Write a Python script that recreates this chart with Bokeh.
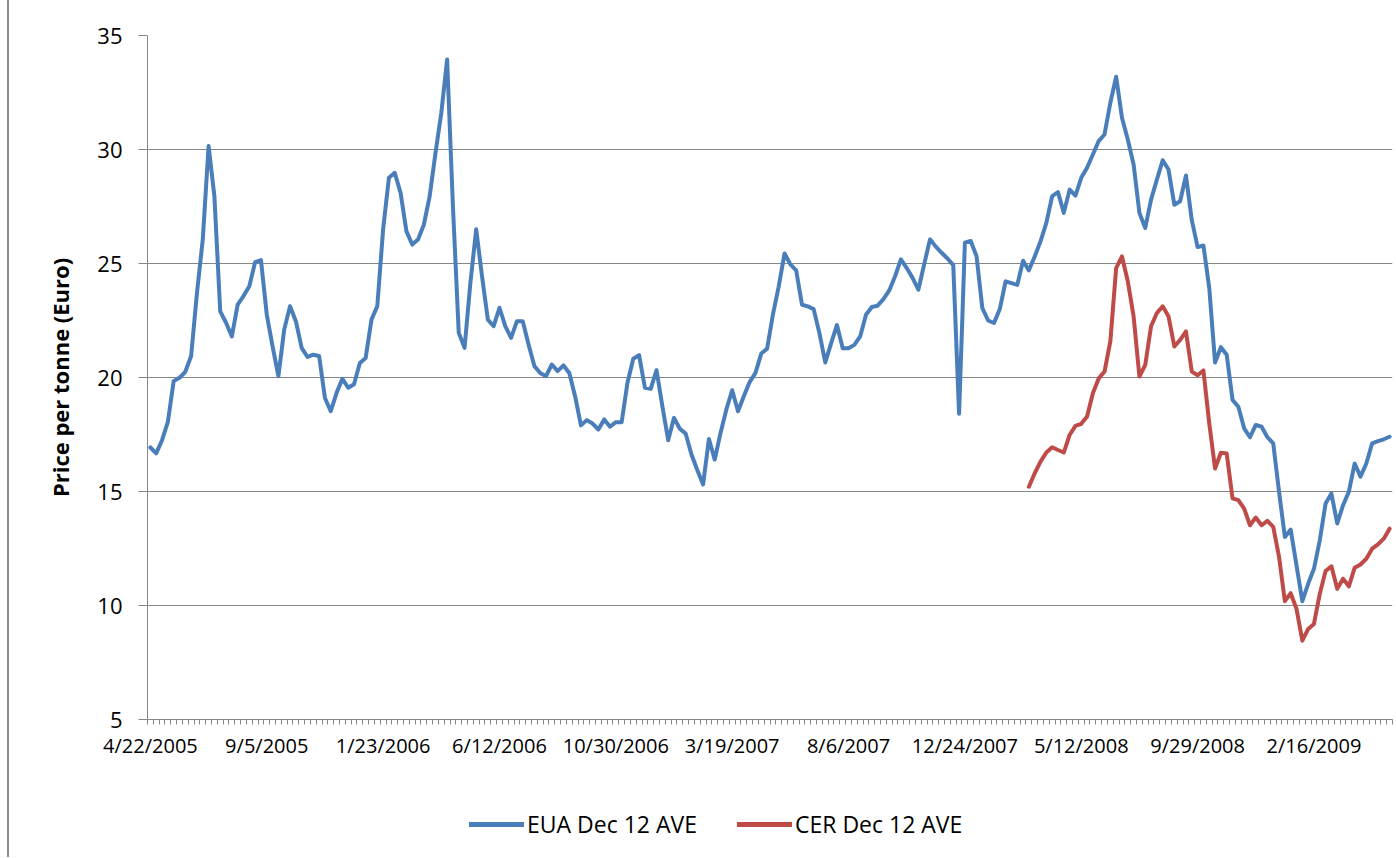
from bokeh.plotting import figure
from bokeh.layouts import column
from bokeh.models import FixedTicker, Legend, LegendItem, Range1d
from bokeh.embed import file_html
from bokeh.resources import INLINE

# Weekly settlement averages (Euro per tonne)
eua = [16.93, 16.67, 17.25, 18.05, 19.84, 19.99, 20.25, 20.94, 23.7, 26.05,
       30.15, 27.95, 22.9, 22.4, 21.8, 23.2, 23.57, 24.0, 25.06, 25.15,
       22.76, 21.37, 20.06, 22.1, 23.13, 22.47, 21.3, 20.9, 21.0, 20.94,
       19.1, 18.52, 19.33, 19.94, 19.55, 19.7, 20.64, 20.86, 22.54, 23.13,
       26.5, 28.76, 28.98, 28.1, 26.42, 25.83, 26.05, 26.7, 27.95, 29.85,
       31.6, 33.95, 27.5, 21.96, 21.3, 24.15, 26.5, 24.44, 22.54, 22.25,
       23.06, 22.25, 21.74, 22.47, 22.47, 21.45, 20.5, 20.2, 20.06, 20.57,
       20.28, 20.53, 20.2, 19.18, 17.9, 18.13, 17.98, 17.72, 18.16, 17.84,
       18.04, 18.04, 19.77, 20.82, 20.98, 19.55, 19.5, 20.32, 18.74, 17.25,
       18.23, 17.75, 17.54, 16.62, 15.94, 15.31, 17.3, 16.4, 17.57, 18.6,
       19.44, 18.52, 19.18, 19.8, 20.2, 21.05, 21.26, 22.76, 24.0, 25.44,
       24.96, 24.7, 23.19, 23.12, 23.0, 21.94, 20.66, 21.5, 22.3, 21.28,
       21.28, 21.43, 21.8, 22.75, 23.09, 23.15, 23.44, 23.82, 24.44, 25.18,
       24.8, 24.37, 23.85, 24.96, 26.06, 25.74, 25.47, 25.22, 24.93, 18.41,
       25.91, 25.99, 25.32, 23.04, 22.5, 22.39, 23.0, 24.22, 24.14, 24.06,
       25.12, 24.7, 25.31, 25.97, 26.78, 27.95, 28.13, 27.22, 28.24, 27.98,
       28.76, 29.2, 29.78, 30.37, 30.66, 32.05, 33.19, 31.39, 30.44, 29.34,
       27.22, 26.56, 27.8, 28.68, 29.53, 29.12, 27.58, 27.73, 28.86, 26.9,
       25.72, 25.79, 23.93, 20.66, 21.33, 21.0, 19.02, 18.72, 17.77, 17.38,
       17.92, 17.84, 17.38, 17.11, 14.99, 13.0, 13.33, 11.76, 10.19, 10.95,
       11.61, 12.86, 14.47, 14.91, 13.6, 14.4, 14.99, 16.23, 15.65, 16.23,
       17.11, 17.21, 17.29, 17.4]

cer_start = 151
cer = [15.21, 15.8, 16.31, 16.71, 16.94, 16.82, 16.71, 17.48, 17.88, 17.97,
       18.29, 19.31, 19.96, 20.26, 21.58, 24.8, 25.31, 24.22, 22.68, 20.04,
       20.55, 22.25, 22.83, 23.12, 22.68, 21.36, 21.65, 22.02, 20.26, 20.1,
       20.31, 17.99, 16.01, 16.7, 16.67, 14.7, 14.62, 14.25, 13.52, 13.86,
       13.52, 13.71, 13.45, 12.13, 10.19, 10.54, 9.85, 8.46, 8.97, 9.19,
       10.51, 11.51, 11.72, 10.73, 11.17, 10.84, 11.66, 11.8, 12.05, 12.49,
       12.68, 12.93, 13.37]

tick_labels = ["4/22/2005", "9/5/2005", "1/23/2006", "6/12/2006", "10/30/2006",
               "3/19/2007", "8/6/2007", "12/24/2007", "5/12/2008", "9/29/2008",
               "2/16/2009"]
label_step = 20
y_ticks = [5, 10, 15, 20, 25, 30, 35]
series_names = ["EUA Dec 12 AVE", "CER Dec 12 AVE"]
series_colors = ["#4A7EBB", "#BE4B48"]

n = len(eua)
x_eua = list(range(n))
x_cer = list(range(cer_start, cer_start + len(cer)))
series_x = [x_eua, x_cer]
series_y = [eua, cer]

FONT = "Open Sans"
GRID = "#868686"
W = 1386
LEFT = 138

p = figure(width=W, height=779, output_backend="svg", toolbar_location=None,
           x_range=Range1d(-0.5, n - 0.5), y_range=Range1d(5, 35),
           min_border_left=LEFT, min_border_right=3, min_border_top=35,
           min_border_bottom=60)
p.outline_line_color = None
p.background_fill_color = "white"
p.border_fill_color = "white"

p.xgrid.visible = False
p.ygrid.grid_line_color = GRID
p.ygrid.grid_line_width = 1

yax = p.yaxis[0]
yax.ticker = FixedTicker(ticks=y_ticks)
yax.axis_line_color = GRID
yax.major_tick_line_color = GRID
yax.major_tick_out = 9
yax.major_tick_in = 0
yax.minor_tick_out = 0
yax.minor_tick_in = 0
yax.major_label_text_font = FONT
yax.major_label_text_font_size = "22px"
yax.major_label_text_color = "black"
yax.major_label_standoff = 16
yax.axis_label = "Price per tonne (Euro)"
yax.axis_label_text_font = FONT
yax.axis_label_text_font_style = "bold"
yax.axis_label_text_font_size = "22px"
yax.axis_label_text_color = "black"
yax.axis_label_standoff = 19

xax = p.xaxis[0]
label_pos = [i * label_step for i in range(len(tick_labels))]
xax.ticker = FixedTicker(ticks=label_pos,
                         minor_ticks=[i - 0.5 for i in range(n + 1)])
xax.major_label_overrides = {pos: lab for pos, lab in zip(label_pos, tick_labels)}
xax.axis_line_color = GRID
xax.major_tick_out = 0
xax.major_tick_in = 0
xax.minor_tick_line_color = GRID
xax.minor_tick_out = 5
xax.minor_tick_in = 0
xax.major_label_text_font = FONT
xax.major_label_text_font_size = "20px"
xax.major_label_text_color = "black"
xax.major_label_standoff = 7

for xs, ys, col in zip(series_x, series_y, series_colors):
    p.line(xs, ys, line_color=col, line_width=4,
           line_join="round", line_cap="round")

# Legend strip below the chart (its proxy lines fall outside its own ranges)
lg = figure(width=W, height=78, output_backend="svg", toolbar_location=None,
            x_axis_type=None, y_axis_type=None,
            x_range=Range1d(-1000, -999), y_range=Range1d(-1000, -999),
            min_border_left=LEFT, min_border_right=3, min_border_top=0,
            min_border_bottom=0)
lg.outline_line_color = None
lg.xgrid.visible = False
lg.ygrid.visible = False
lg.background_fill_color = "white"
lg.border_fill_color = "white"
items = []
for name, xs, ys, col in zip(series_names, series_x, series_y, series_colors):
    r = lg.line(xs, ys, line_color=col, line_width=5, line_cap="round")
    items.append(LegendItem(label=name, renderers=[r]))
legend = Legend(items=items, orientation="horizontal", location=(322, 17),
                border_line_color=None, background_fill_alpha=0,
                label_text_font=FONT, label_text_font_size="23px",
                label_text_color="black",
                glyph_width=55, glyph_height=30, spacing=40, padding=0,
                margin=0, label_standoff=3)
lg.add_layout(legend)

layout = column(p, lg, spacing=0,
                styles={"margin-left": "7px", "border-left": "2px solid #8c8c8c"})

open("out.html", "w").write(file_html(layout, INLINE))
